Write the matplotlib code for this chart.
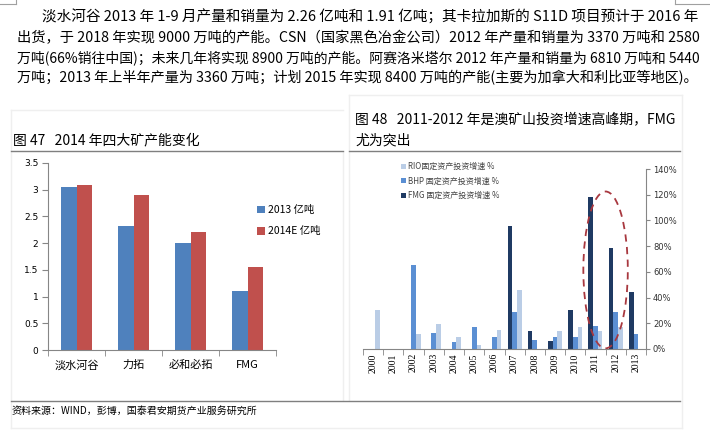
import matplotlib
matplotlib.use("Agg")
from matplotlib import pyplot as plt
from matplotlib.lines import Line2D
from matplotlib.patches import Ellipse
import numpy as np

plt.rcParams['font.family'] = ['Noto Sans CJK SC', 'DejaVu Sans']

W, H = 710, 441

# ---- data ----
paragraph = [
    "淡水河谷 2013 年 1-9 月产量和销量为 2.26 亿吨和 1.91 亿吨；其卡拉加斯的 S11D 项目预计于 2016 年",
    "出货，于 2018 年实现 9000 万吨的产能。CSN（国家黑色冶金公司）2012 年产量和销量为 3370 万吨和 2580",
    "万吨(66%销往中国)；未来几年将实现 8900 万吨的产能。阿赛洛米塔尔 2012 年产量和销量为 6810 万吨和 5440",
    "万吨；2013 年上半年产量为 3360 万吨；计划 2015 年实现 8400 万吨的产能(主要为加拿大和利比亚等地区)。",
]

miners = ["淡水河谷", "力拓", "必和必拓", "FMG"]
cap_2013 = [3.05, 2.33, 2.00, 1.10]
cap_2014e = [3.09, 2.90, 2.20, 1.55]
left_ticks = [0, 0.5, 1, 1.5, 2, 2.5, 3, 3.5]
left_tick_labels = ["0", "0.5", "1", "1.5", "2", "2.5", "3", "3.5"]

years = ["2000", "2001", "2002", "2003", "2004", "2005", "2006",
         "2007", "2008", "2009", "2010", "2011", "2012", "2013"]
fmg = [0, 0, 0, 0, 0, 0, 0, 95.5, 13.7, 6.2, 30.0, 118.0, 78.5, 44.3]
bhp = [0, 0, 65.3, 12.7, 5.7, 16.8, 9.0, 28.5, 7.3, 9.3, 9.0, 18.0, 28.5, 11.7]
rio = [30.0, 0, 11.4, 19.7, 9.6, 3.5, 15.0, 46.0, 0, 14.2, 17.4, 13.7, 16.8, 0]
right_ticks = [0, 20, 40, 60, 80, 100, 120, 140]
right_tick_labels = ["0%", "20%", "40%", "60%", "80%", "100%", "120%", "140%"]


def fx(px):
    return px / W


def fy(py):
    return 1 - py / H


fig = plt.figure(figsize=(W / 100, H / 100), dpi=100)


def hline(x0, x1, y, color, lw=1.0):
    fig.add_artist(Line2D([fx(x0), fx(x1)], [fy(y), fy(y)], color=color, lw=lw))


def vline(x, y0, y1, color, lw=1.0):
    fig.add_artist(Line2D([fx(x), fx(x)], [fy(y0), fy(y1)], color=color, lw=lw))


# page corner marks
hline(0, 16, 4, "#A0A0A0", 0.8)
vline(16, 0, 4, "#A0A0A0", 0.8)
vline(675, 0, 4, "#A0A0A0", 0.8)
hline(675, 710, 4, "#A0A0A0", 0.8)

# faint panel frames
faint = "#EFEFEF"
hline(11, 343, 110, faint)
vline(11, 110, 428, faint)
vline(343, 152, 400, faint)
vline(349, 95, 400, faint)
hline(349, 682, 95, faint)
vline(682, 95, 428, faint)
hline(11, 682, 428, faint)

# dark rules
rule = "#7F7F7F"
hline(11, 343, 151, rule, 1.0)
hline(349, 680, 151, rule, 1.0)
hline(11, 680, 401, rule, 1.0)

# paragraph, each line stretched to full width
fig.canvas.draw()
renderer = fig.canvas.get_renderer()
line_y = [17, 38, 58, 78]
for i, s in enumerate(paragraph):
    x0 = 42 if i == 0 else 17
    t = fig.text(fx(x0), fy(line_y[i]), s, fontsize=9.4, va='center', ha='left', color='black')
    w = t.get_window_extent(renderer).width
    t.set_fontsize(9.4 * (697 - x0) / w)

# captions
fig.text(fx(13), fy(140), "图 47   2014 年四大矿产能变化", fontsize=10, va='center', ha='left')
fig.text(fx(355), fy(119), "图 48   2011-2012 年是澳矿山投资增速高峰期，FMG", fontsize=10, va='center', ha='left')
fig.text(fx(355), fy(140), "尤为突出", fontsize=10, va='center', ha='left')
fig.text(fx(12), fy(411), "资料来源：WIND，彭博，国泰君安期货产业服务研究所", fontsize=7.2, va='center', ha='left')

axis_gray = "#868686"

# ---- left chart ----
ax1 = fig.add_axes([fx(48), fy(350), fx(276) - fx(48), fy(163) - fy(350)])
x = np.arange(len(miners))
bw = 0.28
ax1.bar(x - bw / 2, cap_2013, bw, color="#4F81BD", label="2013 亿吨")
ax1.bar(x + bw / 2, cap_2014e, bw, color="#C0504D", label="2014E 亿吨")
ax1.set_xlim(-0.5, len(miners) - 0.5)
ax1.set_ylim(0, 3.5)
ax1.set_yticks(left_ticks)
ax1.set_yticklabels(left_tick_labels, fontsize=6.5, family=['DejaVu Sans'])
ax1.set_xticks(x)
ax1.set_xticklabels(miners, fontsize=8)
ax1.set_xticks(np.arange(-0.5, len(miners)), minor=True)
ax1.tick_params(axis='x', which='major', length=0, pad=7)
ax1.tick_params(axis='x', which='minor', length=4, color=axis_gray, direction='out')
ax1.tick_params(axis='y', length=4, color=axis_gray, pad=3)
for side in ['top', 'right']:
    ax1.spines[side].set_visible(False)
for side in ['left', 'bottom']:
    ax1.spines[side].set_color(axis_gray)
    ax1.spines[side].set_linewidth(0.8)
ax1.legend(loc='upper left', bbox_to_anchor=(fx(257), fy(205)), bbox_transform=fig.transFigure,
           frameon=False, fontsize=7.5, handlelength=0.75, handleheight=0.75, handletextpad=0.3,
           labelspacing=1.1, borderaxespad=0, borderpad=0)

# ---- right chart ----
ax2 = fig.add_axes([fx(363), fy(349), fx(646) - fx(363), fy(169) - fy(349)])
x2 = np.arange(len(years))
bw2 = 0.23
ax2.bar(x2 - bw2, fmg, bw2, color="#1F3A63", label="FMG 固定资产投资增速 %")
ax2.bar(x2, bhp, bw2, color="#5B8FD3", label="BHP 固定资产投资增速 %")
ax2.bar(x2 + bw2, rio, bw2, color="#BACDE6", label="RIO固定资产投资增速 %")
ax2.set_xlim(-0.5, len(years) - 0.5)
ax2.set_ylim(0, 140)
ax2.yaxis.tick_right()
ax2.set_yticks(right_ticks)
ax2.set_yticklabels(right_tick_labels, fontsize=6, family=['DejaVu Sans'], color="#333333")
ax2.set_xticks(x2)
ax2.set_xticklabels(years, rotation=90, fontsize=7, family=['Liberation Serif'])
ax2.set_xticks(np.arange(-0.5, len(years)), minor=True)
ax2.tick_params(axis='x', which='major', length=0, pad=3)
ax2.tick_params(axis='x', which='minor', length=4, color=axis_gray, direction='out')
ax2.tick_params(axis='y', length=3, color=axis_gray, pad=2)
for side in ['top', 'left']:
    ax2.spines[side].set_visible(False)
for side in ['right', 'bottom']:
    ax2.spines[side].set_color(axis_gray)
    ax2.spines[side].set_linewidth(0.8)
ax2.add_patch(Ellipse((11.5, 61.5), 2.2, 122, fill=False, edgecolor="#A8383F",
                      linestyle=(0, (4, 3)), lw=1.3, clip_on=False))
handles, labels = ax2.get_legend_handles_labels()
ax2.legend(handles[::-1], labels[::-1], loc='upper left', bbox_to_anchor=(fx(401), fy(162)),
           bbox_transform=fig.transFigure, frameon=False, fontsize=5.8, handlelength=0.6,
           handleheight=0.6, handletextpad=0.3, labelspacing=0.7, borderaxespad=0, borderpad=0,
           labelcolor="#444444")

fig.savefig("out.png", dpi=100)
